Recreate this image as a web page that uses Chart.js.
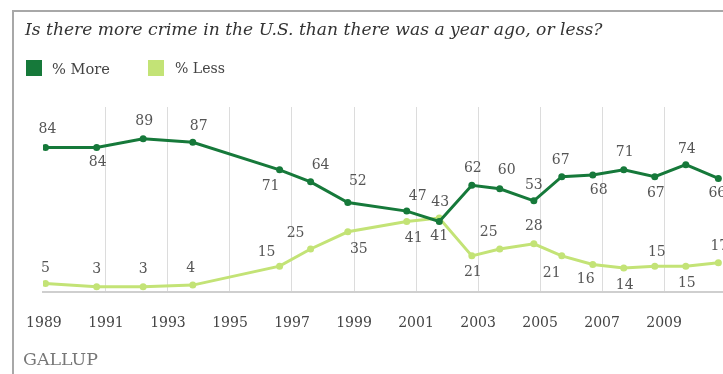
<!DOCTYPE html>
<html>
<head>
<meta charset="utf-8">
<script src="https://cdn.jsdelivr.net/npm/chart.js@4.4.1/dist/chart.umd.min.js"></script>
<style>
    html, body { margin: 0; padding: 0; background: #fff; overflow: hidden; }
    #wrap { position: relative; width: 723px; height: 374px; overflow: hidden; }
    #frame { position: absolute; left: 12px; top: 10px; width: 720px; height: 370px;
             border-top: 2px solid #a8a8a8; border-left: 2px solid #a8a8a8; }
    #chart { position: absolute; left: 0; top: 0; }
    .txt { position: absolute; white-space: nowrap; font-family: "DejaVu Serif", serif; color: #333; }
    #title { left: 25px; top: 19px; font-style: italic; font-size: 16px; }
    .swatch { position: absolute; width: 16px; height: 16px; top: 60px; }
    .leg { top: 60px; font-size: 13px; color: #444; }
    #gallup { left: 23px; top: 349px; font-size: 15px; color: #777; }
</style>
</head>
<body>
<div id="wrap">
    <div id="frame"></div>
    <canvas id="chart" width="727" height="374"></canvas>
    <div id="title" class="txt" data-w="578">Is there more crime in the U.S. than there was a year ago, or less?</div>
    <div class="swatch" style="left:26px;background:#16793a"></div>
    <div class="txt leg" style="left:52px" data-w="58">% More</div>
    <div class="swatch" style="left:148px;background:#c3e376"></div>
    <div class="txt leg" style="left:175px" data-w="50">% Less</div>
    <div id="gallup" class="txt" data-w="75">GALLUP</div>
</div>
<script>
    // survey dates (fractional years) and results
    const surveyYears = [1989.05, 1990.7, 1992.2, 1993.8, 1996.6, 1997.6, 1998.8, 2000.7, 2001.75,
        2002.8, 2003.7, 2004.8, 2005.7, 2006.7, 2007.7, 2008.7, 2009.7, 2010.75];
    const moreValues = [84, 84, 89, 87, 71, 64, 52, 47, 41, 62, 60, 53, 67, 68, 71, 67, 74, 66];
    const lessValues = [5, 3, 3, 4, 15, 25, 35, 41, 43, 21, 25, 28, 21, 16, 14, 15, 15, 17];
    const tickYears = [1989, 1991, 1993, 1995, 1997, 1999, 2001, 2003, 2005, 2007, 2009];

    // where each value label sits relative to its point [dx, dy]
    const moreLabelOffsets = [[2, -18], [1, 15], [1, -17], [6, -16], [-9, 17], [10, -17], [10, -21], [11, -15], [0, 15],
        [1, -17], [7, -18], [0, -15], [-1, -16], [6, 15], [1, -17], [1, 17], [1, -15], [-1, 15]];
    const lessLabelOffsets = [[0, -15], [0, -17], [0, -17], [-2, -17], [-13, -14], [-15, -16], [11, 18], [7, 17], [1, -16],
        [1, 16], [-11, -17], [0, -17], [-10, 17], [-7, 15], [1, 17], [2, -14], [1, 17], [1, -16]];

    const DARK = '#16793a';
    const LIGHT = '#c3e376';

    // shrink/grow html text so it spans the same width as the original
    document.querySelectorAll('[data-w]').forEach(el => {
        const target = parseFloat(el.dataset.w);
        const size = parseFloat(getComputedStyle(el).fontSize);
        const w = el.getBoundingClientRect().width;
        if (w > 0) el.style.fontSize = (size * target / w).toFixed(2) + 'px';
    });

    const toPoints = vals => vals.map((v, i) => ({ x: surveyYears[i], y: v }));

    const valueLabels = {
        id: 'valueLabels',
        afterDatasetsDraw(chart) {
            const ctx = chart.ctx;
            ctx.save();
            ctx.font = '14px "DejaVu Serif", serif';
            ctx.fillStyle = '#555';
            ctx.textAlign = 'center';
            ctx.textBaseline = 'middle';
            chart.data.datasets.forEach((ds, di) => {
                const meta = chart.getDatasetMeta(di);
                meta.data.forEach((pt, i) => {
                    const off = ds.labelOffsets[i];
                    ctx.fillText(String(ds.data[i].y), pt.x + off[0], pt.y + off[1]);
                });
            });
            ctx.restore();
        }
    };

    new Chart(document.getElementById('chart'), {
        type: 'line',
        data: {
            datasets: [
                {
                    label: '% More',
                    data: toPoints(moreValues),
                    labelOffsets: moreLabelOffsets,
                    borderColor: DARK,
                    backgroundColor: DARK,
                    borderWidth: 3,
                    pointRadius: 3.5,
                    pointBorderWidth: 0,
                    tension: 0
                },
                {
                    label: '% Less',
                    data: toPoints(lessValues),
                    labelOffsets: lessLabelOffsets,
                    borderColor: LIGHT,
                    backgroundColor: LIGHT,
                    borderWidth: 3,
                    pointRadius: 3.5,
                    pointBorderWidth: 0,
                    tension: 0
                }
            ]
        },
        options: {
            responsive: false,
            animation: false,
            devicePixelRatio: 1,
            layout: { padding: { left: 43, right: 0, top: 107, bottom: 0 } },
            plugins: { legend: { display: false }, tooltip: { enabled: false } },
            scales: {
                x: {
                    type: 'linear',
                    min: 1988.97,
                    max: 2010.9,
                    afterBuildTicks: scale => { scale.ticks = tickYears.map(v => ({ value: v })); },
                    afterFit: scale => {
                        scale.height = 82;
                        scale.paddingLeft = 0;
                        scale.paddingRight = 0;
                    },
                    grid: {
                        drawTicks: false,
                        lineWidth: 1,
                        color: c => (c.tick && c.tick.value === 1989) ? 'rgba(0,0,0,0)' : '#dcdcdc'
                    },
                    border: { display: true, color: '#cfcfcf', width: 2 },
                    ticks: {
                        padding: 23,
                        color: '#444',
                        font: { family: 'DejaVu Serif', size: 14 },
                        callback: v => String(v)
                    }
                },
                y: {
                    display: false,
                    min: 0,
                    max: 107.5
                }
            }
        },
        plugins: [valueLabels]
    });
</script>
</body>
</html>
